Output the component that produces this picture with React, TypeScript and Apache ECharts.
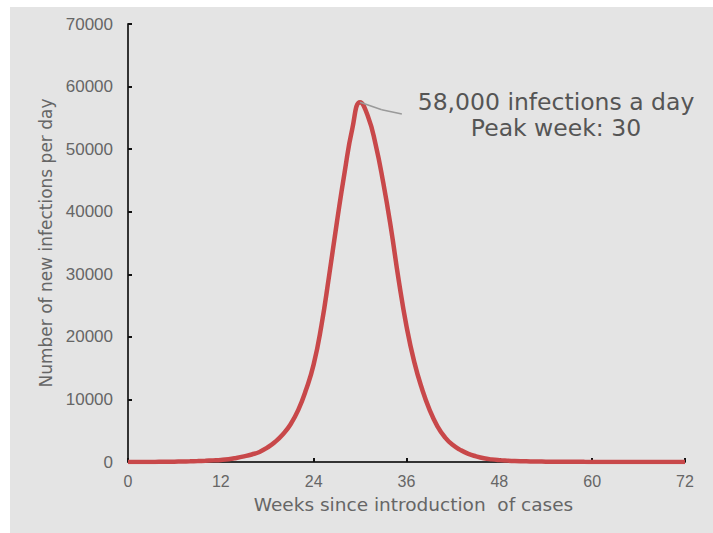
import React, { useEffect, useRef } from "react";
import * as echarts from "echarts";

const weeks: number[] = [
  0, 1, 2, 3, 4, 5, 6, 7, 8, 9, 10, 11, 12, 13, 14, 15, 16, 17, 18, 19, 20, 21, 22, 23, 24,
  25, 26, 27, 28, 29, 30, 31, 32, 33, 34, 35, 36, 37, 38, 39, 40, 41, 42, 43, 44, 45, 46, 47, 48,
  49, 50, 51, 52, 53, 54, 55, 56, 57, 58, 59, 60, 61, 62, 63, 64, 65, 66, 67, 68, 69, 70, 71, 72,
];
const infections: number[] = [
  0, 0, 0, 10, 20, 30, 50, 80, 110, 150, 200, 260, 330, 450, 650, 900, 1200, 1600, 2300, 3200, 4400, 6000, 8300, 11500, 15600,
  21800, 29800, 38300, 46300, 53300, 57500, 55300, 50800, 44600, 37300, 29000, 21700, 16000, 11700, 8300, 5700, 3900, 2700, 1900, 1300, 900, 600, 420, 300,
  220, 160, 120, 90, 70, 55, 45, 35, 30, 25, 20, 18, 15, 12, 10, 9, 8, 7, 6, 5, 4, 3, 2, 2,
];
const xTicks = { min: 0, max: 72, interval: 12 };
const yTicks = { min: 0, max: 70000, interval: 10000 };
const leader: number[][] = [
  [30, 57500],
  [32.8, 56300],
  [35.4, 55600],
];
const annotationLines: string[] = ["58,000 infections a day", "Peak week: 30"];

export default function App() {
  const ref = useRef<HTMLDivElement>(null);
  useEffect(() => {
    if (!ref.current) return;
    const chart = echarts.init(ref.current, null, { renderer: "svg" });
    const data = weeks.map((w, i) => [w, infections[i]]);
    const font = "'Liberation Sans', Arial, sans-serif";
    const wide = "'DejaVu Sans', sans-serif";
    chart.setOption({
      animation: false,
      backgroundColor: "#ffffff",
      textStyle: { fontFamily: font },
      grid: { left: 128, right: 28, top: 24, bottom: 71, containLabel: false, outerBoundsMode: "none" },
      graphic: [
        {
          type: "rect",
          z: -10,
          silent: true,
          shape: { x: 10, y: 7, width: 710, height: 530 },
          style: { fill: "#e4e4e4" },
        },
        {
          type: "text",
          x: 556,
          y: 102,
          z: 10,
          style: {
            text: annotationLines[0],
            fontSize: 23.5,
            fontFamily: wide,
            fill: "#555555",
            align: "center",
            verticalAlign: "middle",
          },
        },
        {
          type: "text",
          x: 556,
          y: 128,
          z: 10,
          style: {
            text: annotationLines[1],
            fontSize: 23.5,
            fontFamily: wide,
            fill: "#555555",
            align: "center",
            verticalAlign: "middle",
          },
        },
      ],
      xAxis: {
        type: "value",
        min: xTicks.min,
        max: xTicks.max,
        interval: xTicks.interval,
        name: "Weeks since introduction  of cases",
        nameLocation: "middle",
        nameGap: 33,
        nameTextStyle: { fontSize: 18.5, color: "#666666", fontFamily: wide, padding: [0, 0, 0, 14] },
        axisLine: { lineStyle: { color: "#333333", width: 2 } },
        axisTick: { inside: true, length: 4, lineStyle: { color: "#111111", width: 2 } },
        axisLabel: { fontSize: 16, color: "#666666", margin: 11, fontFamily: font },
        splitLine: { show: false },
      },
      yAxis: {
        type: "value",
        min: yTicks.min,
        max: yTicks.max,
        interval: yTicks.interval,
        name: "Number of new infections per day",
        nameLocation: "middle",
        nameGap: 70,
        nameTextStyle: { fontSize: 17, color: "#666666", fontFamily: wide },
        axisLine: { show: true, lineStyle: { color: "#333333", width: 2 } },
        axisTick: { show: true, inside: true, length: 4, lineStyle: { color: "#111111", width: 2 } },
        axisLabel: {
          fontSize: 17,
          color: "#666666",
          margin: 15,
          fontFamily: font,
          formatter: (v: number) => String(v),
        },
        splitLine: { show: false },
      },
      series: [
        {
          type: "line",
          data,
          smooth: 0.5,
          symbol: "none",
          lineStyle: { color: "#c8484a", width: 4.5 },
          z: 3,
          markLine: {
            silent: true,
            symbol: "none",
            label: { show: false },
            lineStyle: { color: "#9a9a9a", width: 1.5, type: "solid" },
            data: [
              [{ coord: leader[0] }, { coord: leader[1] }],
              [{ coord: leader[1] }, { coord: leader[2] }],
            ],
          },
        },
      ],
    });
    return () => chart.dispose();
  }, []);
  return (
    <div
      ref={ref}
      style={{ position: "fixed", left: 0, top: 0, width: 713, height: 533 }}
    />
  );
}
